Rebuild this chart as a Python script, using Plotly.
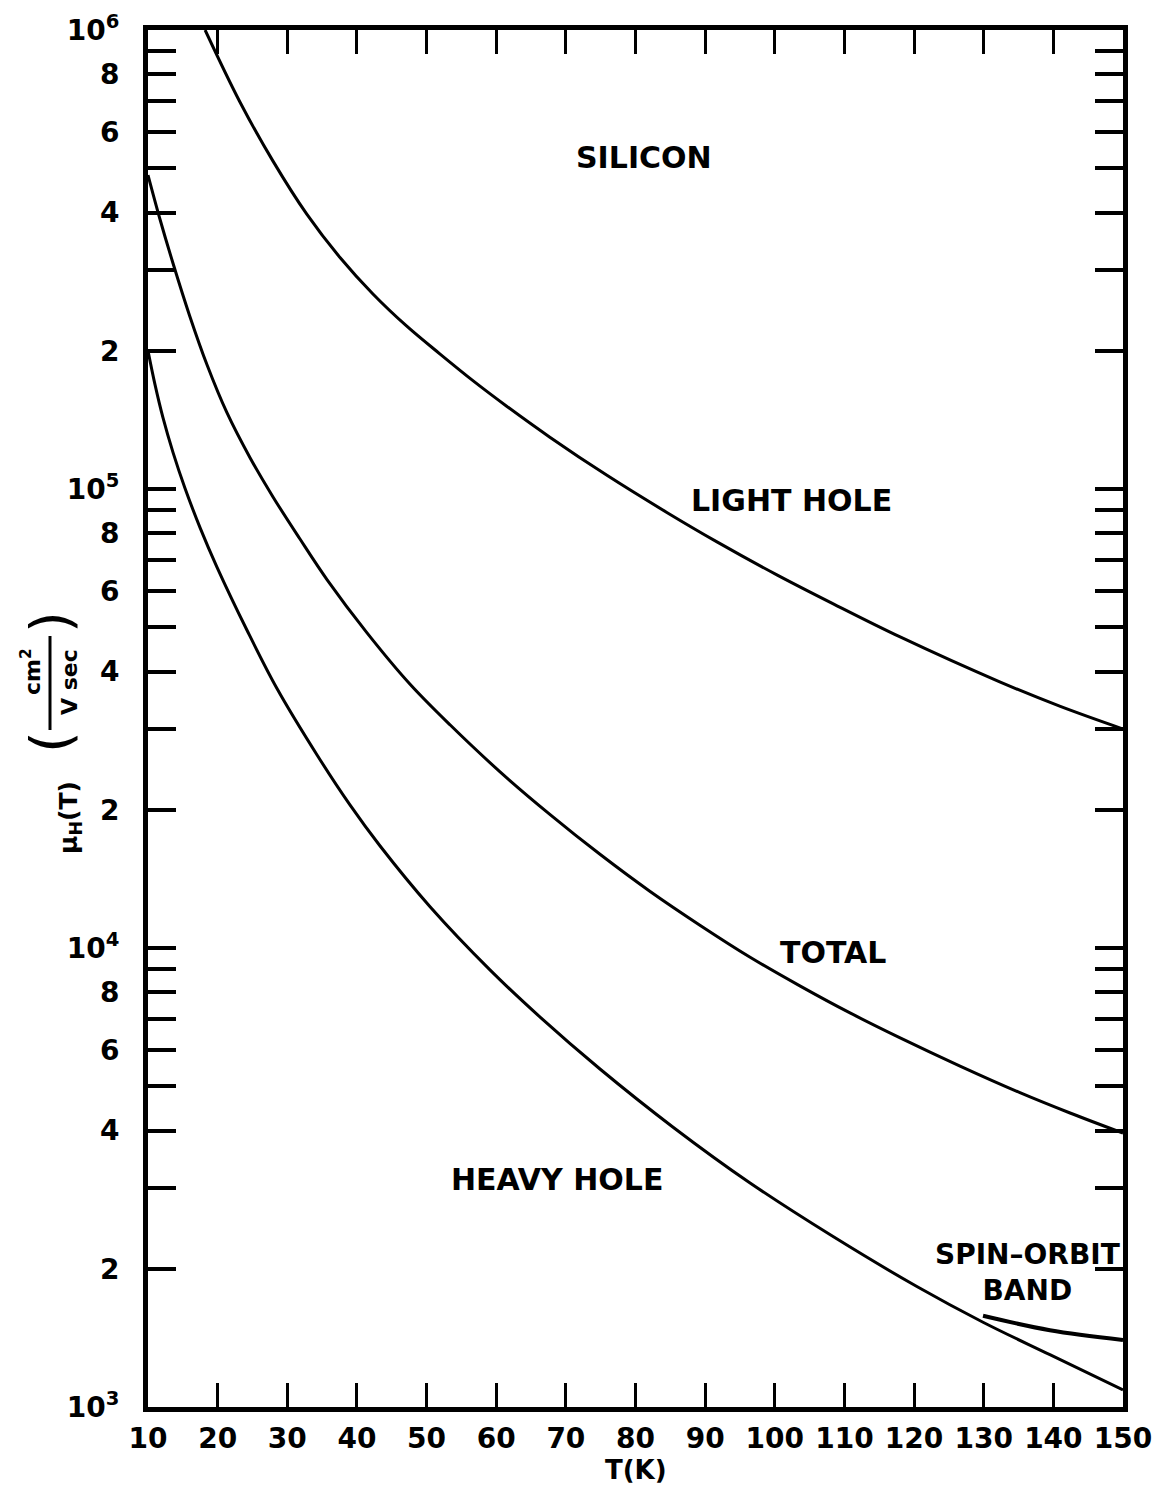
import plotly.graph_objects as go

# ---------------- data ----------------
T_light = [18.2, 23.2, 27.95, 32.8, 37.6, 42.3, 47.2, 51.9, 56.7, 61.5, 67.7, 75.9, 84.5,
           91.7, 100.3, 108.4, 118.0, 132.3, 141.0, 150]
mu_light = [1.0e6, 6.97e5, 5.18e5, 3.97e5, 3.19e5, 2.66e5, 2.26e5, 1.97e5, 1.72e5, 1.515e5,
            1.297e5, 1.071e5, 8.89e4, 7.67e4, 6.50e4, 5.62e4, 4.76e4, 3.80e4, 3.36e4, 3.0e4]

T_total = [10, 11.7, 13.6, 16.0, 18.5, 21.3, 24.65, 27.95, 31.8, 35.7, 41.45, 47.6, 53.4,
           60.55, 67.7, 74.9, 82.1, 89.3, 96.4, 103.6, 110.8, 118.0, 126.6, 135.2, 142.4, 150]
mu_total = [4.83e5, 3.88e5, 3.10e5, 2.38e5, 1.86e5, 1.47e5, 1.17e5, 9.61e4, 7.79e4, 6.35e4,
            4.86e4, 3.76e4, 3.06e4, 2.42e4, 1.955e4, 1.60e4, 1.328e4, 1.120e4, 9.56e3,
            8.27e3, 7.22e3, 6.37e3, 5.53e3, 4.84e3, 4.37e3, 3.95e3]

T_heavy = [10, 11.0, 12.15, 13.6, 15.3, 17.5, 19.9, 24.2, 28.5, 34.3, 39.0, 43.3, 50.5,
           59.1, 66.3, 74.9, 85.4, 96.4, 108.2, 120.4, 129.9, 139.5, 150]
mu_heavy = [2.00e5, 1.69e5, 1.43e5, 1.20e5, 1.005e5, 8.22e4, 6.76e4, 4.93e4, 3.68e4, 2.63e4,
            2.05e4, 1.67e4, 1.23e4, 8.96e3, 7.07e3, 5.45e3, 4.07e3, 3.08e3, 2.36e3,
            1.83e3, 1.53e3, 1.30e3, 1.09e3]

T_spin = [129.9, 139.5, 150]
mu_spin = [1.58e3, 1.47e3, 1.40e3]

x_tickvals = [10, 20, 30, 40, 50, 60, 70, 80, 90, 100, 110, 120, 130, 140, 150]
x_ticktext = ["10", "20", "30", "40", "50", "60", "70", "80", "90", "100", "110",
              "120", "130", "140", "150"]

y_tickvals = [1e3, 2e3, 4e3, 6e3, 8e3, 1e4, 2e4, 4e4, 6e4, 8e4,
              1e5, 2e5, 4e5, 6e5, 8e5, 1e6]
y_ticktext = ["10<sup>3</sup>", "2", "4", "6", "8",
              "10<sup>4</sup>", "2", "4", "6", "8",
              "10<sup>5</sup>", "2", "4", "6", "8", "10<sup>6</sup>"]
y_minorvals = [3e3, 5e3, 7e3, 9e3, 3e4, 5e4, 7e4, 9e4, 3e5, 5e5, 7e5, 9e5]

# ---------------- figure ----------------
# the page body has an 8 px margin, so the figure is 16 px smaller than the window
OFF = 8
W, H = 1165 - 2 * OFF, 1494 - 2 * OFF
L, R, TOP, BOT = 148 - OFF, 42 - OFF, 30 - OFF, 87 - OFF
PW, PH = W - L - R, H - TOP - BOT

def px(xp):
    # window pixel -> paper x
    return (xp - OFF - L) / PW

def py(yp):
    # window pixel -> paper y
    return (H - BOT - (yp - OFF)) / PH

FONT = "DejaVu Sans"
fig = go.Figure()
line = dict(color="black", width=3, shape="spline", smoothing=1.0)
fig.add_trace(go.Scatter(x=T_light, y=mu_light, mode="lines", line=line))
fig.add_trace(go.Scatter(x=T_total, y=mu_total, mode="lines", line=line))
fig.add_trace(go.Scatter(x=T_heavy, y=mu_heavy, mode="lines", line=line))
fig.add_trace(go.Scatter(x=T_spin, y=mu_spin, mode="lines",
                         line=dict(color="black", width=4, shape="spline")))

tickfont = dict(family=FONT, size=28, color="black", weight="bold")

fig.update_layout(
    width=W, height=H,
    margin=dict(l=L, r=R, t=TOP, b=BOT, pad=0, autoexpand=False),
    plot_bgcolor="white", paper_bgcolor="white",
    showlegend=False,
    xaxis=dict(range=[10, 150], showgrid=False, zeroline=False, automargin=False,
               showline=True, linewidth=5, linecolor="black", mirror="allticks",
               ticks="inside", ticklen=24, tickwidth=3, tickcolor="black",
               tickmode="array", tickvals=x_tickvals, ticktext=x_ticktext,
               tickfont=tickfont, ticklabelstandoff=2),
    yaxis=dict(type="log", range=[3, 6], showgrid=False, zeroline=False, automargin=False,
               showline=True, linewidth=5, linecolor="black", mirror="allticks",
               ticks="inside", ticklen=28, tickwidth=4, tickcolor="black",
               tickmode="array", tickvals=y_tickvals, ticktext=y_ticktext,
               tickfont=tickfont, ticklabelstandoff=18,
               minor=dict(tickmode="array", tickvals=y_minorvals, ticks="inside",
                          ticklen=28, tickwidth=4, tickcolor="black", showgrid=False)),
)

def label(text, xp, yp, size=30, angle=0, bold=True):
    fig.add_annotation(text=text, x=px(xp), y=py(yp), xref="paper", yref="paper",
                       showarrow=False, xanchor="center", yanchor="middle",
                       textangle=angle, align="center",
                       font=dict(family=FONT, size=size, color="black",
                                 weight="bold" if bold else "normal"))

label("SILICON", 644, 157)
label("LIGHT HOLE", 791, 500)
label("TOTAL", 833, 952)
label("HEAVY HOLE", 557, 1179)
label("SPIN\u2013ORBIT<br>BAND", 1027, 1272, size=28)

# x-axis title
label("T(K)", 636, 1470, size=26)

# y-axis title (rotated, with fraction)
label("\u03bc<sub>H</sub>(T)", 70, 818, size=25, angle=-90)
label("(", 50, 742, size=56, angle=-90, bold=False)
label(")", 50, 622, size=56, angle=-90, bold=False)
label("cm<sup>2</sup>", 31, 672, size=22, angle=-90)
label("V sec", 69, 682, size=22, angle=-90)
fig.add_shape(type="line", xref="paper", yref="paper",
              x0=px(50), x1=px(50), y0=py(636), y1=py(730),
              line=dict(color="black", width=3))

fig.write_html("out.html")
